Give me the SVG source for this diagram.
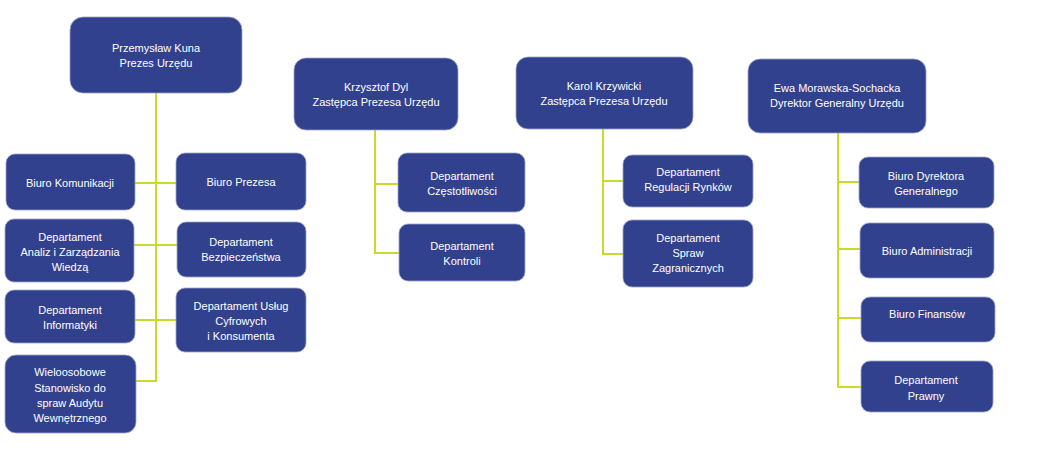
<svg xmlns="http://www.w3.org/2000/svg" width="1063" height="470" viewBox="0 0 1063 470">
<style>
.box{fill:#32418E;stroke:#9aa3c9;stroke-width:0.8}
.t{font-family:"Liberation Sans",Arial,sans-serif;font-size:11px;fill:#ffffff;text-anchor:middle}
.c{stroke:#C8DA2B;stroke-width:2;fill:none}
</style>
<rect width="1063" height="470" fill="#ffffff"/>
<g id="connectors">
<path class="c" d="M156,93 V382 M135,183 H176 M134,245 H177 M135,320 H176 M136,381 H157"/>
<path class="c" d="M375,130 V253 H399 M375,184 H398"/>
<path class="c" d="M603,129 V254 H623 M603,181 H623"/>
<path class="c" d="M838,133 V387 H861 M838,182 H859 M838,249 H860 M838,318 H861"/>
</g>
<g id="n-kuna"><rect class="box" x="70" y="17" width="172" height="76" rx="13"/><text class="t" x="156" y="52">Przemysław Kuna</text><text class="t" x="156" y="67">Prezes Urzędu</text></g>
<g id="n-komunikacji"><rect class="box" x="6" y="154" width="129" height="56" rx="9"/><text class="t" x="70" y="187">Biuro Komunikacji</text></g>
<g id="n-prezesa"><rect class="box" x="176" y="153" width="130" height="57" rx="9"/><text class="t" x="241" y="186">Biuro Prezesa</text></g>
<g id="n-analiz"><rect class="box" x="5" y="219" width="129" height="63" rx="9"/><text class="t" x="70" y="241">Departament</text><text class="t" x="70" y="256">Analiz i Zarządzania</text><text class="t" x="70" y="271">Wiedzą</text></g>
<g id="n-bezp"><rect class="box" x="177" y="222" width="129" height="55" rx="9"/><text class="t" x="241" y="246">Departament</text><text class="t" x="241" y="261">Bezpieczeństwa</text></g>
<g id="n-inf"><rect class="box" x="5" y="290" width="130" height="53" rx="9"/><text class="t" x="70" y="314">Departament</text><text class="t" x="70" y="329">Informatyki</text></g>
<g id="n-uslug"><rect class="box" x="176" y="288" width="130" height="64" rx="9"/><text class="t" x="241" y="310">Departament Usług</text><text class="t" x="241" y="325">Cyfrowych</text><text class="t" x="241" y="340">i Konsumenta</text></g>
<g id="n-audyt"><rect class="box" x="5" y="355" width="131" height="78" rx="11"/><text class="t" x="70" y="376">Wieloosobowe</text><text class="t" x="70" y="392">Stanowisko do</text><text class="t" x="70" y="407">spraw Audytu</text><text class="t" x="70" y="422">Wewnętrznego</text></g>
<g id="n-dyl"><rect class="box" x="294" y="58" width="164" height="72" rx="12"/><text class="t" x="376" y="91">Krzysztof Dyl</text><text class="t" x="376" y="106">Zastępca Prezesa Urzędu</text></g>
<g id="n-czest"><rect class="box" x="398" y="153" width="127" height="59" rx="9"/><text class="t" x="462" y="180">Departament</text><text class="t" x="462" y="195">Częstotliwości</text></g>
<g id="n-kontroli"><rect class="box" x="399" y="224" width="126" height="57" rx="9"/><text class="t" x="462" y="250">Departament</text><text class="t" x="462" y="265">Kontroli</text></g>
<g id="n-krzywicki"><rect class="box" x="516" y="57" width="177" height="72" rx="12"/><text class="t" x="604" y="90">Karol Krzywicki</text><text class="t" x="604" y="105">Zastępca Prezesa Urzędu</text></g>
<g id="n-rynkow"><rect class="box" x="623" y="155" width="130" height="52" rx="9"/><text class="t" x="688" y="176">Departament</text><text class="t" x="688" y="191">Regulacji Rynków</text></g>
<g id="n-zagr"><rect class="box" x="623" y="220" width="130" height="67" rx="9"/><text class="t" x="688" y="242">Departament</text><text class="t" x="688" y="257">Spraw</text><text class="t" x="688" y="272">Zagranicznych</text></g>
<g id="n-ewa"><rect class="box" x="748" y="59" width="178" height="74" rx="12"/><text class="t" x="837" y="92">Ewa Morawska-Sochacka</text><text class="t" x="837" y="107">Dyrektor Generalny Urzędu</text></g>
<g id="n-bdg"><rect class="box" x="859" y="157" width="135" height="51" rx="9"/><text class="t" x="926" y="180">Biuro Dyrektora</text><text class="t" x="926" y="195">Generalnego</text></g>
<g id="n-adm"><rect class="box" x="860" y="223" width="134" height="55" rx="9"/><text class="t" x="927" y="255">Biuro Administracji</text></g>
<g id="n-fin"><rect class="box" x="861" y="297" width="134" height="45" rx="9"/><text class="t" x="927" y="318">Biuro Finansów</text></g>
<g id="n-prawny"><rect class="box" x="861" y="361" width="132" height="51" rx="9"/><text class="t" x="926" y="384">Departament</text><text class="t" x="926" y="400">Prawny</text></g>
</svg>
